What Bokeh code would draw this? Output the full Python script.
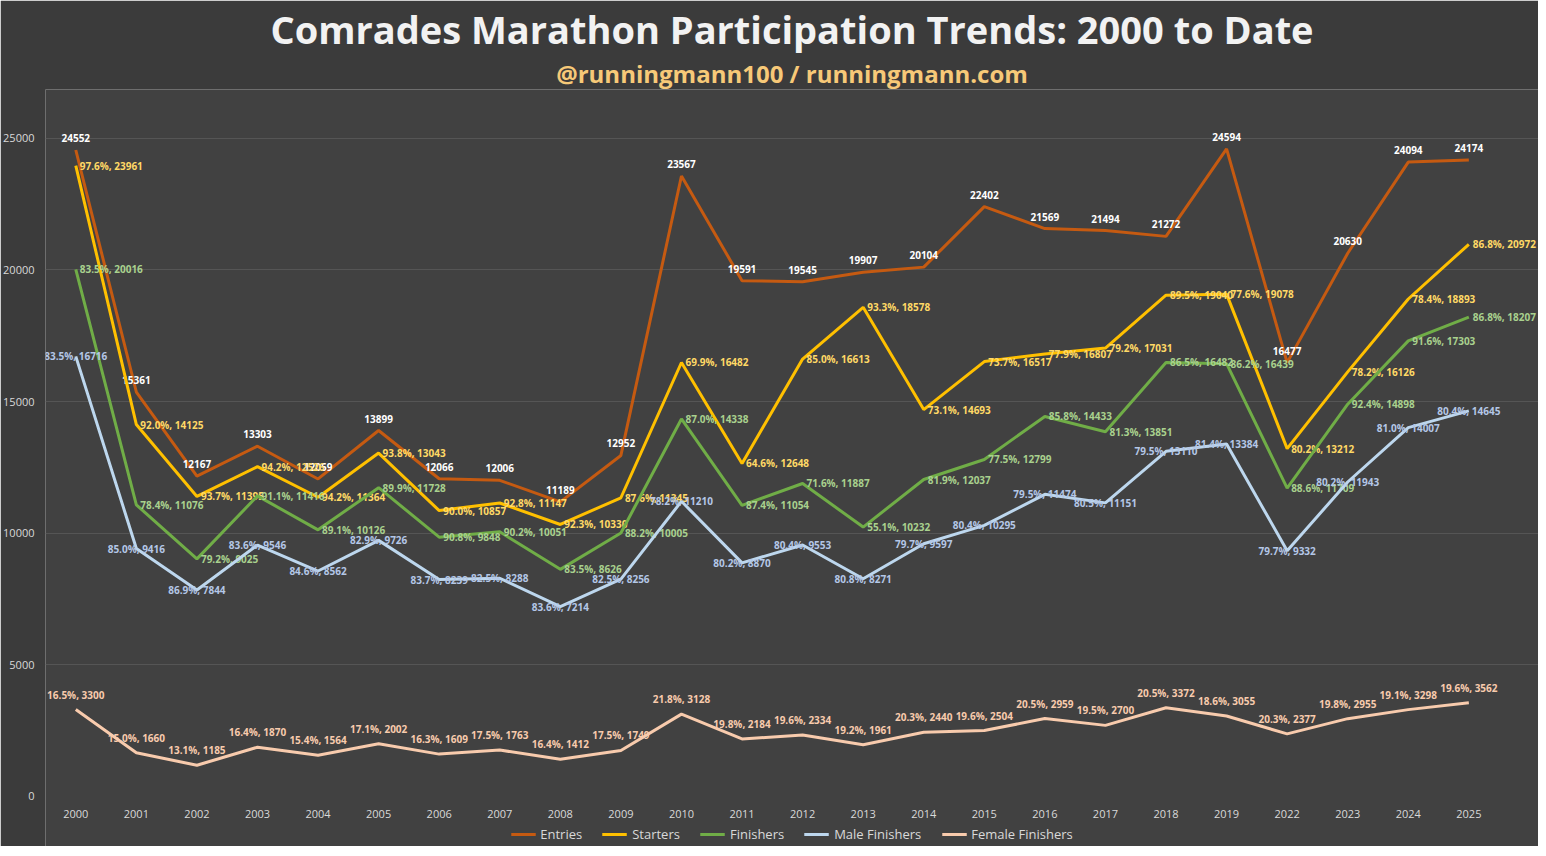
from bokeh.plotting import figure
from bokeh.models import Title, Legend, LegendItem, ColumnDataSource, FixedTicker, NumeralTickFormatter
from bokeh.core.properties import value
from bokeh.embed import file_html
from bokeh.resources import INLINE

years = ["2000","2001","2002","2003","2004","2005","2006","2007","2008","2009","2010","2011","2012","2013","2014","2015","2016","2017","2018","2019","2022","2023","2024","2025"]
entries = [24552,15361,12167,13303,12059,13899,12066,12006,11189,12952,23567,19591,19545,19907,20104,22402,21569,21494,21272,24594,16477,20630,24094,24174]
starters = [23961,14125,11395,12526,11364,13043,10857,11147,10330,11345,16482,12648,16613,18578,14693,16517,16807,17031,19040,19078,13212,16126,18893,20972]
starters_pct = ["97.6%","92.0%","93.7%","94.2%","94.2%","93.8%","90.0%","92.8%","92.3%","87.6%","69.9%","64.6%","85.0%","93.3%","73.1%","73.7%","77.9%","79.2%","89.5%","77.6%","80.2%","78.2%","78.4%","86.8%"]
finishers = [20016,11076,9025,11416,10126,11728,9848,10051,8626,10005,14338,11054,11887,10232,12037,12799,14433,13851,16482,16439,11709,14898,17303,18207]
finishers_pct = ["83.5%","78.4%","79.2%","91.1%","89.1%","89.9%","90.8%","90.2%","83.5%","88.2%","87.0%","87.4%","71.6%","55.1%","81.9%","77.5%","85.8%","81.3%","86.5%","86.2%","88.6%","92.4%","91.6%","86.8%"]
male = [16716,9416,7844,9546,8562,9726,8239,8288,7214,8256,11210,8870,9553,8271,9597,10295,11474,11151,13110,13384,9332,11943,14007,14645]
male_pct = ["83.5%","85.0%","86.9%","83.6%","84.6%","82.9%","83.7%","82.5%","83.6%","82.5%","78.2%","80.2%","80.4%","80.8%","79.7%","80.4%","79.5%","80.5%","79.5%","81.4%","79.7%","80.2%","81.0%","80.4%"]
female = [3300,1660,1185,1870,1564,2002,1609,1763,1412,1749,3128,2184,2334,1961,2440,2504,2959,2700,3372,3055,2377,2955,3298,3562]
female_pct = ["16.5%","15.0%","13.1%","16.4%","15.4%","17.1%","16.3%","17.5%","16.4%","17.5%","21.8%","19.8%","19.6%","19.2%","20.3%","19.6%","20.5%","19.5%","20.5%","18.6%","20.3%","19.8%","19.1%","19.6%"]
y_ticks = [0, 5000, 10000, 15000, 20000, 25000]

xs = list(range(len(years)))
BG = "#3b3b3b"
p = figure(width=1538, height=846, x_range=(-0.5, 24.15), y_range=(-1900, 26850),
           output_backend="svg", toolbar_location=None,
           background_fill_color="#414141", border_fill_color=BG,
           outline_line_color=None, min_border_left=42, min_border_right=0,
           min_border_bottom=0, min_border_top=8)

p.add_layout(Title(text="@runningmann100 / runningmann.com", align="center",
                   text_font_size="24px", text_color="#f7c978", text_font="Open Sans",
                   text_font_style="bold", standoff=0), "above")
p.add_layout(Title(text="Comrades Marathon Participation Trends: 2000 to Date", align="center",
                   text_font_size="38px", text_color="#f2f2f2", text_font="Open Sans",
                   text_font_style="bold", standoff=0), "above")

p.xaxis.visible = False
p.yaxis.ticker = FixedTicker(ticks=y_ticks)
p.yaxis.formatter = NumeralTickFormatter(format="0")
p.yaxis.axis_line_color = None
p.yaxis.major_tick_line_color = None
p.yaxis.minor_tick_line_color = None
p.yaxis.major_label_text_color = "#d9d9d9"
p.yaxis.major_label_text_font_size = "11px"
p.yaxis.major_label_text_font = "Open Sans"
p.xgrid.grid_line_color = None
p.ygrid.grid_line_color = "#555555"
p.ygrid.ticker = FixedTicker(ticks=y_ticks[1:])

ysrc = ColumnDataSource(dict(x=xs, y=[0]*len(years), t=years))
p.text("x", "y", text="t", source=ysrc, text_color="#d9d9d9", text_font_size="11px",
       text_font=value("Open Sans"), text_align="center", text_baseline="middle", y_offset=18)

series = [
    ("Entries", entries, None, "#c55a11", "#ffffff", "above"),
    ("Starters", starters, starters_pct, "#ffc000", "#ffd966", "right"),
    ("Finishers", finishers, finishers_pct, "#70ad47", "#a9d18e", "right"),
    ("Male Finishers", male, male_pct, "#bdd7ee", "#b4c7e7", "center"),
    ("Female Finishers", female, female_pct, "#f8cbad", "#f8cbad", "above"),
]
items = []
for name, vals, pct, col, lcol, pos in series:
    labels = [str(v) if pct is None else f"{q}, {v}" for v, q in zip(vals, pct or [None]*len(vals))]
    src = ColumnDataSource(dict(x=xs, y=vals, t=labels))
    r = p.line("x", "y", source=src, line_color=col, line_width=3)
    items.append(LegendItem(label=name, renderers=[r]))
    if pos == "above":
        kw = dict(text_align="center", text_baseline="bottom", y_offset=-8)
    elif pos == "right":
        kw = dict(text_align="left", text_baseline="middle", x_offset=4)
    else:
        kw = dict(text_align="center", text_baseline="middle")
    p.text("x", "y", text="t", source=src, text_color=lcol, text_font_size="10px",
           text_font=value("Open Sans"), text_font_style="bold", **kw)

legend = Legend(items=items, orientation="horizontal", location="bottom_center",
                background_fill_alpha=0, border_line_color=None,
                label_text_color="#d9d9d9", label_text_font_size="13px",
                label_text_font="Open Sans", glyph_width=25, spacing=20, margin=2)
p.add_layout(legend)

open("out.html", "w").write(file_html(p, INLINE))
